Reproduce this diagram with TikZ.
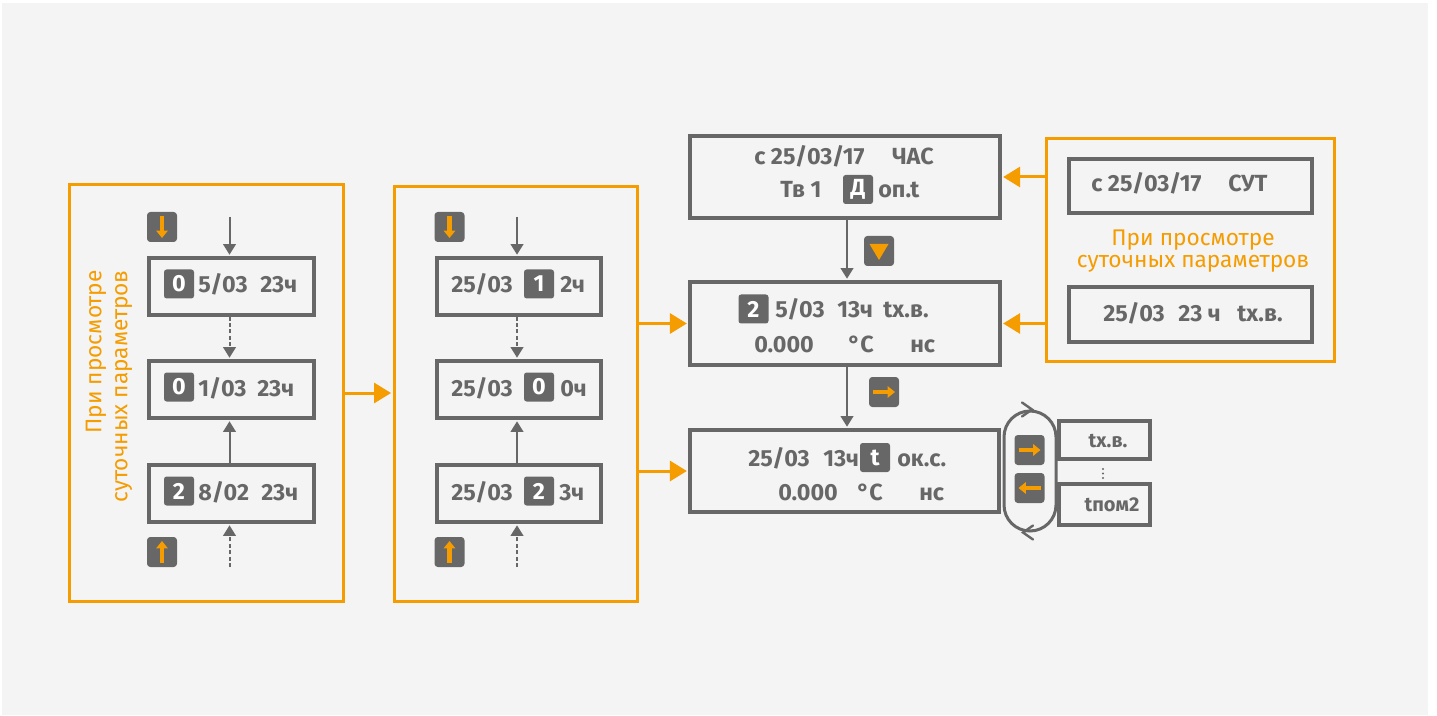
\documentclass[tikz,border=0pt]{standalone}
\usepackage{fontspec}
\setmainfont{Fira Sans}
\usetikzlibrary{arrows.meta,fit,calc}
\definecolor{bg}{HTML}{F4F4F4}
\definecolor{gr}{HTML}{676767}
\definecolor{og}{HTML}{F59C00}
\tikzset{
  lcd/.style={draw=gr, line width=2.5pt, inner sep=0pt},
  obox/.style={draw=og, line width=2.25pt, inner sep=0pt},
  tx/.style={font=\bfseries\fontsize{17.5}{20}\selectfont, text=gr, inner sep=0pt, anchor=base west},
  txs/.style={font=\bfseries\fontsize{15}{17}\selectfont, text=gr, inner sep=0pt, anchor=base},
  hlb/.style={fill=gr, rounded corners=2pt, text=white, font=\bfseries\fontsize{17.5}{20}\selectfont, minimum width=22.5pt, minimum height=21.75pt, inner sep=0pt},
  keyb/.style={fill=gr, rounded corners=2.5pt, minimum width=22.5pt, minimum height=22.5pt, inner sep=0pt},
  otxt/.style={font=\fontsize{17}{19}\selectfont, text=og, inner sep=0pt},
  garrow/.style={draw=gr, line width=1.5pt, shorten >=1.2pt, -{Triangle[length=8pt,width=9.5pt]}},
  oarrow/.style={draw=og, line width=2.25pt, shorten >=1.1pt, -{Triangle[length=12.75pt,width=15pt]}},
  iarrow/.style={draw=og, line width=3.5pt, -{Triangle[length=5.5pt,width=8.5pt]}},
  dsh/.style={dash pattern=on 3pt off 1.8pt},
  chev/.style={draw=gr, line width=1.8pt, line cap=round, line join=miter},
}
\begin{document}
\begin{tikzpicture}[x=0.75pt,y=-0.75pt]
\useasboundingbox (0,0) rectangle (1437,716);
\fill[white] (0,0) rectangle (1437,716);
\fill[bg] (2,3) rectangle (1428,715);

% ---------- left group ----------
\node[obox, fit={(69,185)(343,601)}] (L) {};
\node[lcd, fit={(149,258)(314,315)}] (La) {};
\node[lcd, fit={(149,361)(314,418)}] (Lb) {};
\node[lcd, fit={(149,465)(314,522)}] (Lc) {};
\node[keyb] (Lkd) at (162,227) {};
\node[keyb] (Lku) at (162,552) {};
\draw[iarrow] ($(Lkd)+(0,-11)$) -- ($(Lkd)+(0,11)$);
\draw[iarrow] ($(Lku)+(0,11)$) -- ($(Lku)+(0,-11)$);
\coordinate (Ltop) at (229.5,217);
\coordinate (Lbot) at (229.5,567);
\draw[garrow] (Ltop) -- (Ltop |- La.north);
\draw[garrow, dsh] (La.south -| Ltop) -- (Lb.north -| Ltop);
\draw[garrow] (Lc.north -| Ltop) -- (Lb.south -| Ltop);
\draw[garrow, dsh] (Lbot) -- (Lc.south -| Lbot);
\node[hlb] (La0) at (179,284) {0};
\node[tx] (La1) at (198,293) {5/03};
\node[tx] (La2) at (260,293) {23ч};
\node[hlb] (Lb0) at (179,387) {0};
\node[tx] (Lb1) at (198,396) {1/03};
\node[tx] (Lb2) at (257,396) {23ч};
\node[hlb] (Lc0) at (179,491) {2};
\node[tx] (Lc1) at (198,500) {8/02};
\node[tx] (Lc2) at (261,500) {23ч};
\node[otxt, rotate=90, anchor=east, align=right, font=\fontsize{17}{19.5}\selectfont] (Lnote) at (109,270) {При просмотре\\суточных параметров};

% ---------- middle group ----------
\node[obox, fit={(394,187)(637,601)}] (M) {};
\node[lcd, fit={(437,258)(601,315)}] (Ma) {};
\node[lcd, fit={(437,361)(601,418)}] (Mb) {};
\node[lcd, fit={(437,465)(601,522)}] (Mc) {};
\node[keyb] (Mkd) at (449.5,227) {};
\node[keyb] (Mku) at (449.5,552) {};
\draw[iarrow] ($(Mkd)+(0,-11)$) -- ($(Mkd)+(0,11)$);
\draw[iarrow] ($(Mku)+(0,11)$) -- ($(Mku)+(0,-11)$);
\coordinate (Mtop) at (517,217);
\coordinate (Mbot) at (517,567);
\draw[garrow] (Mtop) -- (Mtop |- Ma.north);
\draw[garrow, dsh] (Ma.south -| Mtop) -- (Mb.north -| Mtop);
\draw[garrow] (Mc.north -| Mtop) -- (Mb.south -| Mtop);
\draw[garrow, dsh] (Mbot) -- (Mc.south -| Mbot);
\node[tx] (Ma1) at (451,293) {25/03};
\node[hlb] (Ma0) at (539,284) {1};
\node[tx] (Ma2) at (560,293) {2ч};
\node[tx] (Mb1) at (451,396) {25/03};
\node[hlb] (Mb0) at (539,387) {0};
\node[tx] (Mb2) at (560,396) {0ч};
\node[tx] (Mc1) at (451,500) {25/03};
\node[hlb] (Mc0) at (539,491) {2};
\node[tx] (Mc2) at (559,500) {3ч};

% ---------- right column ----------
\node[lcd, fit={(690,136)(1000,218)}] (B1) {};
\node[lcd, fit={(690,282)(1000,365)}] (B2) {};
\node[lcd, fit={(690,430)(999,512)}] (B3) {};
\coordinate (Bx) at (847,0);
\draw[garrow] (B1.south -| Bx) -- (B2.north -| Bx);
\draw[garrow] (B2.south -| Bx) -- (B3.north -| Bx);
\node[keyb] (Bk1) at (879,251) {};
\fill[og] ($(Bk1)+(-9.5,-7)$) -- ($(Bk1)+(9.5,-7)$) -- ($(Bk1)+(0,9)$) -- cycle;
\node[keyb] (Bk2) at (884,392) {};
\draw[iarrow] ($(Bk2)+(-11,0)$) -- ($(Bk2)+(11,0)$);

\node[tx] (B1a) at (754,165) {с 25/03/17};
\node[tx] (B1b) at (892,165) {ЧАС};
\node[tx] (B1c) at (780,198) {Тв 1};
\node[hlb] (B1d) at (858,189.5) {Д};
\node[tx] (B1e) at (878,198) {оп.t};

\node[hlb] (B2a) at (753.5,309) {2};
\node[tx] (B2b) at (775,317) {5/03};
\node[tx] (B2c) at (837,317) {13ч};
\node[tx] (B2d) at (883,317) {tх.в.};
\node[tx] (B2e) at (754,352.5) {0.000};
\node[tx] (B2f) at (848,352.5) {°C};
\node[tx] (B2g) at (910,352.5) {нс};

\node[tx] (B3a) at (748,466) {25/03};
\node[tx] (B3b) at (823,466) {13ч};
\node[hlb] (B3c) at (875,457.5) {t};
\node[tx] (B3d) at (897,466) {ок.с.};
\node[tx] (B3e) at (778,500) {0.000};
\node[tx] (B3f) at (857,500) {°C};
\node[tx] (B3g) at (919,500) {нс};

% ---------- loop and parameter list ----------
\node[draw=gr, line width=2.25pt, rounded corners=19.5pt, inner sep=0pt, fit={(1004,411)(1056,531)}] (loop) {};
\draw[chev] ($(loop.north)+(-8,-7)$) -- ($(loop.north)+(2,0)$) -- ($(loop.north)+(-8,7)$);
\draw[chev] ($(loop.south)+(3,-7)$) -- ($(loop.south)+(-7,0)$) -- ($(loop.south)+(3,7)$);
\node[keyb] (Kr) at (1029.5,450) {};
\node[keyb] (Kl) at (1029.5,488) {};
\draw[iarrow] ($(Kr)+(-11,0)$) -- ($(Kr)+(11,0)$);
\draw[iarrow] ($(Kl)+(11,0)$) -- ($(Kl)+(-11,0)$);
\node[lcd, fit={(1059,421)(1150,459)}] (D1) {};
\node[lcd, fit={(1059,484)(1150,525)}] (D2) {};
\node[txs] (D1t) at (1108,447) {tх.в.};
\node[txs] (D2t) at (1112,511) {tпом2};
\fill[gr] (1103,469) circle (0.8pt) (1103,473.5) circle (0.8pt) (1103,478) circle (0.8pt);

% ---------- right orange group ----------
\node[obox, fit={(1046,139)(1334,361)}] (R) {};
\node[lcd, fit={(1069,159)(1312,213)}] (C1) {};
\node[lcd, fit={(1069,287)(1312,342)}] (C2) {};
\node[tx] (C1a) at (1091,192) {с 25/03/17};
\node[tx] (C1b) at (1228,192) {СУТ};
\node[tx] (C2a) at (1103,321) {25/03};
\node[tx] (C2b) at (1178,321) {23 ч};
\node[tx] (C2c) at (1237,321) {tх.в.};
\node[otxt, align=center, font=\fontsize{17}{16.5}\selectfont] (Rnote) at (1193,251) {При просмотре\\суточных параметров};

% ---------- orange connectors ----------
\draw[oarrow] (L.east) -- (L.east -| M.west);
\draw[oarrow] (B2.west -| M.east) -- (B2.west);
\draw[oarrow] (B3.west -| M.east) -- (B3.west);
\draw[oarrow] (B1.east -| R.west) -- (B1.east);
\draw[oarrow] (B2.east -| R.west) -- (B2.east);
\end{tikzpicture}
\end{document}
